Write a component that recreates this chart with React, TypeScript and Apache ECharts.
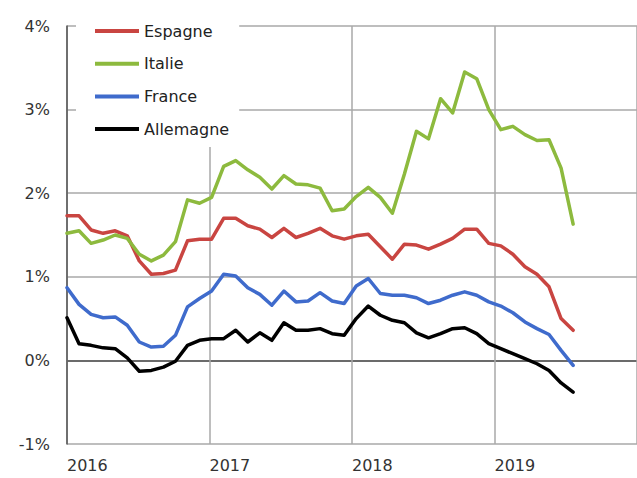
import React, { useEffect, useRef } from "react";
import * as echarts from "echarts";

// Monthly points, Jan 2016 .. Jul 2019
const espagne = [1.73, 1.73, 1.56, 1.52, 1.55, 1.49, 1.19, 1.03, 1.04, 1.08, 1.43, 1.45,
  1.45, 1.70, 1.70, 1.61, 1.57, 1.47, 1.58, 1.47, 1.52, 1.58, 1.49, 1.45,
  1.49, 1.51, 1.36, 1.21, 1.39, 1.38, 1.33, 1.39, 1.46, 1.57, 1.57, 1.40,
  1.37, 1.27, 1.12, 1.03, 0.88, 0.50, 0.36];
const italie = [1.52, 1.55, 1.40, 1.44, 1.50, 1.46, 1.27, 1.19, 1.26, 1.42, 1.92, 1.88,
  1.95, 2.32, 2.39, 2.28, 2.19, 2.05, 2.21, 2.11, 2.10, 2.06, 1.79, 1.81,
  1.96, 2.07, 1.95, 1.76, 2.23, 2.74, 2.65, 3.13, 2.96, 3.45, 3.37, 3.00,
  2.76, 2.80, 2.70, 2.63, 2.64, 2.30, 1.63];
const france = [0.87, 0.67, 0.55, 0.51, 0.52, 0.42, 0.22, 0.16, 0.17, 0.30, 0.64, 0.74,
  0.83, 1.03, 1.01, 0.87, 0.79, 0.66, 0.83, 0.70, 0.71, 0.81, 0.71, 0.68,
  0.89, 0.98, 0.80, 0.78, 0.78, 0.75, 0.68, 0.72, 0.78, 0.82, 0.78, 0.70,
  0.65, 0.57, 0.46, 0.38, 0.31, 0.12, -0.06];
const allemagne = [0.51, 0.20, 0.18, 0.15, 0.14, 0.03, -0.13, -0.12, -0.08, -0.01, 0.18, 0.24,
  0.26, 0.26, 0.36, 0.22, 0.33, 0.24, 0.45, 0.36, 0.36, 0.38, 0.32, 0.30,
  0.50, 0.65, 0.54, 0.48, 0.45, 0.33, 0.27, 0.32, 0.38, 0.39, 0.32, 0.20,
  0.14, 0.08, 0.02, -0.04, -0.12, -0.27, -0.38];

const seriesNames = ["Espagne", "Italie", "France", "Allemagne"];
const seriesColors = ["#c94541", "#8dba3e", "#3f6bcc", "#000000"];
const seriesValues = [espagne, italie, france, allemagne];

const yearMin = 2016;
const yearMax = 2020;
const yMin = -1;
const yMax = 4;

const FONT = "DejaVu Sans";

export default function App() {
  const ref = useRef<HTMLDivElement>(null);
  useEffect(() => {
    if (!ref.current) return;
    const chart = echarts.init(ref.current, null, { renderer: "svg" });
    const gridColor = "#a9a9a9";
    chart.setOption({
      animation: false,
      backgroundColor: "#ffffff",
      grid: { left: 67, right: 0, top: 26, bottom: 34, containLabel: false },
      legend: {
        data: seriesNames,
        orient: "vertical",
        left: 76,
        top: 10,
        padding: [13, 10, 10, 19],
        backgroundColor: "#ffffff",
        icon: "rect",
        itemWidth: 44,
        itemHeight: 4,
        itemGap: 16.7,
        textStyle: { fontFamily: FONT, fontSize: 16, color: "#222", lineHeight: 16 },
        z: 10,
      },
      xAxis: [
        {
          type: "value",
          min: 0,
          max: 47.3,
          show: false,
        },
        {
          type: "value",
          min: yearMin,
          max: yearMax,
          interval: 1,
          position: "bottom",
          axisLine: { show: false },
          axisTick: { show: false },
          splitLine: { show: true, lineStyle: { color: gridColor, width: 1.5 } },
          axisLabel: {
            show: true,
            formatter: (v: number) => String(v),
            align: "left",
            margin: 13,
            showMaxLabel: false,
            fontFamily: FONT,
            fontSize: 16,
            color: "#333",
          },
        },
      ],
      yAxis: {
        type: "value",
        min: yMin,
        max: yMax,
        interval: 1,
        axisLine: { show: true, lineStyle: { color: "#555", width: 1.5 } },
        axisTick: { show: false },
        splitLine: {
          show: true,
          lineStyle: { color: [gridColor, "#3a3a3a", gridColor, gridColor, gridColor, gridColor], width: 1.5 },
        },
        axisLabel: {
          formatter: (v: number) => `${v}%`,
          margin: 17,
          fontFamily: FONT,
          fontSize: 16,
          color: "#333",
        },
      },
      series: seriesNames.map((name, k) => ({
        name,
        type: "line",
        xAxisIndex: 0,
        symbol: "none",
        data: seriesValues[k].map((v, i) => [i, v]),
        lineStyle: { color: seriesColors[k], width: 3.5, join: "round", cap: "round" },
        itemStyle: { color: seriesColors[k] },
      })),
    });
    return () => chart.dispose();
  }, []);
  return (
    <div
      ref={ref}
      style={{ position: "fixed", left: 0, top: 0, width: 637, height: 478 }}
    />
  );
}
